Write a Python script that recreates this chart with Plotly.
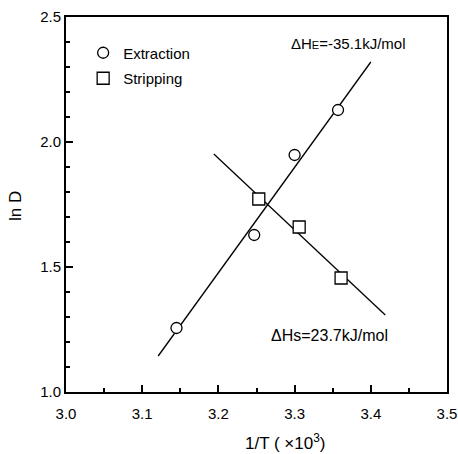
import plotly.graph_objects as go

# Data
ext_x = [3.145, 3.247, 3.300, 3.357]
ext_y = [1.256, 1.628, 1.948, 2.128]
strip_x = [3.253, 3.306, 3.361]
strip_y = [1.772, 1.660, 1.456]

# Fitted lines (end points as drawn)
ext_fit_x = [3.121, 3.400]
ext_fit_y = [1.144, 2.320]
strip_fit_x = [3.194, 3.419]
strip_fit_y = [1.952, 1.308]

x_ticks = [3.0, 3.1, 3.2, 3.3, 3.4, 3.5]
y_ticks = [1.0, 1.5, 2.0, 2.5]

FONT = "Liberation Sans, Arial, sans-serif"

fig = go.Figure()
fig.add_trace(go.Scatter(x=ext_fit_x, y=ext_fit_y, mode="lines",
                         line=dict(color="black", width=1.3), showlegend=False,
                         hoverinfo="skip"))
fig.add_trace(go.Scatter(x=strip_fit_x, y=strip_fit_y, mode="lines",
                         line=dict(color="black", width=1.3), showlegend=False,
                         hoverinfo="skip"))
fig.add_trace(go.Scatter(x=ext_x, y=ext_y, mode="markers", name="Extraction",
                         legendgroup="a",
                         marker=dict(symbol="circle", size=11, color="white",
                                     line=dict(color="black", width=1.3))))
fig.add_trace(go.Scatter(x=strip_x, y=strip_y, mode="markers", name="Stripping",
                         legendgroup="b",
                         marker=dict(symbol="square", size=12, color="white",
                                     line=dict(color="black", width=1.3))))

axis_common = dict(
    showgrid=False, zeroline=False, showline=True, linecolor="black", linewidth=2,
    mirror=True, ticks="inside", ticklen=7, tickwidth=1.5, tickcolor="black",
    tickfont=dict(family=FONT, size=15, color="black"), automargin=False,
)

fig.update_xaxes(range=[3.0, 3.5], tickvals=x_ticks,
                 ticktext=[f"{v:.1f}" for v in x_ticks], ticklabelstandoff=7,
                 minor=dict(ticks="inside", ticklen=4, dtick=0.05, tickcolor="black"),
                 **axis_common)
fig.update_yaxes(range=[1.0, 2.5], tickvals=y_ticks,
                 ticktext=[f"{v:.1f}" for v in y_ticks], ticklabelstandoff=0,
                 minor=dict(ticks="inside", ticklen=4, dtick=0.1, tickcolor="black"),
                 **axis_common)

fig.add_annotation(x=3.449, y=2.396, xref="x", yref="y", xanchor="right", yanchor="middle",
                   text='ΔH<span style="font-size:11px">E</span>=-35.1kJ/mol', showarrow=False,
                   font=dict(family=FONT, size=15, color="black"))
fig.add_annotation(x=3.425, y=1.228, xref="x", yref="y", xanchor="right", yanchor="middle",
                   text='ΔHs=23.7kJ/mol', showarrow=False,
                   font=dict(family=FONT, size=16, color="black"))
fig.add_annotation(x=0.577, y=-0.133, xref="paper", yref="paper", xanchor="center",
                   yanchor="middle", text="1/T ( ×10<sup>3</sup>)", showarrow=False,
                   font=dict(family=FONT, size=17, color="black"))
fig.add_annotation(x=-0.134, y=0.496, xref="paper", yref="paper", xanchor="center",
                   yanchor="middle", text="ln D", textangle=-90, showarrow=False,
                   font=dict(family=FONT, size=17, color="black"))

fig.update_layout(
    width=458, height=454,
    margin=dict(l=66, r=11, t=17, b=62, autoexpand=False),
    paper_bgcolor="white", plot_bgcolor="white",
    showlegend=True,
    legend=dict(x=0.045, y=0.948, xanchor="left", yanchor="top",
                bgcolor="rgba(0,0,0,0)", tracegroupgap=3,
                font=dict(family=FONT, size=15, color="black")),
)

fig.write_html("out.html")
